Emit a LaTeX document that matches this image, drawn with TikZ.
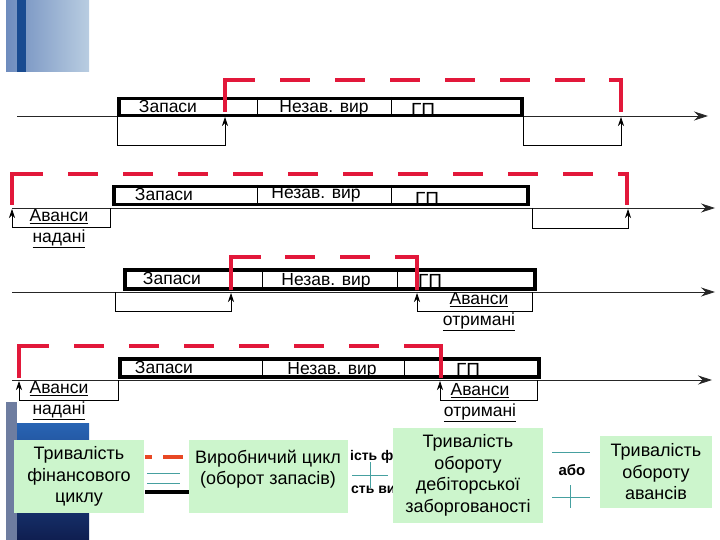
\documentclass[tikz,border=0pt]{standalone}
\usepackage{fontspec}
\setmainfont{Liberation Sans}
\usetikzlibrary{arrows.meta}
\definecolor{finred}{RGB}{226,24,58}
\definecolor{boxgreen}{RGB}{204,245,204}
\definecolor{legteal}{RGB}{70,160,160}
\definecolor{legorange}{RGB}{232,72,36}
\definecolor{decoA}{RGB}{110,140,190}
\definecolor{decoB}{RGB}{185,205,225}
\definecolor{decoC}{RGB}{25,75,145}
\definecolor{decoD}{RGB}{110,125,160}
\definecolor{decoE}{RGB}{40,100,180}
\definecolor{decoF}{RGB}{15,30,80}

\begin{document}
\begin{tikzpicture}[x=1pt, y=-1pt, >=Stealth,
  axis/.style={black!85, line width=0.8pt, -{Stealth[length=14pt,width=9pt]}},
  bar/.style={draw, line width=3.5pt, fill=white, anchor=north west, inner sep=0pt},
  sep/.style={line width=0.6pt},
  lbl/.style={font=\fontsize{17.5}{19}\selectfont, inner sep=1pt},
  gp/.style={font=\fontsize{19}{20}\selectfont, inner sep=0pt},
  adv/.style={font=\fontsize{17.5}{21}\selectfont, align=center, inner sep=0pt},
  brk/.style={line width=0.7pt, -{Stealth[length=9pt,width=6pt]}},
  fin/.style={finred, line width=4.5pt, dash pattern=on 30pt off 25pt, dash phase=23pt},
  finend/.style={finred, line width=4.5pt},
  gbox/.style={fill=boxgreen, inner sep=0pt},
  gtxt/.style={font=\fontsize{18}{21.5}\selectfont, align=center, inner sep=0pt},
  hid/.style={font=\bfseries\fontsize{14}{16}\selectfont, inner sep=0pt, anchor=base west},
  legline/.style={legteal, line width=0.8pt}
]
  \useasboundingbox (0,0) rectangle (720,540);

  % slide decoration
  \shade[left color=decoA, right color=decoB] (6,0) rectangle (89,72);
  \fill[decoC] (17,0) rectangle (26,72);
  \fill[decoD] (6,402) rectangle (17,540);
  \shade[top color=decoE, bottom color=decoF] (17,423) rectangle (89,540);

  % ---- row 1
  \coordinate (a1s) at (17,116);
  \coordinate (a1e) at (708,116);
  \draw[axis] (a1s) -- (a1e);
  \node[bar, minimum width=403pt, minimum height=17pt] (bar1) at (117,97) {};
  \draw[sep] (257,0 |- bar1.north) -- (257,0 |- bar1.south);
  \draw[sep] (391,0 |- bar1.north) -- (391,0 |- bar1.south);
  \node[lbl] (zap1) at (168,106) {Запаси};
  \node[lbl] (nez1) at (324,108) {Незав. вир};
  \node[gp] (gp1) at (423,110) {ГП};
  \coordinate (k1l) at (225,145); \coordinate (t1l) at (225,117);
  \coordinate (k1r) at (621,145); \coordinate (t1r) at (621,117);
  \draw[brk] (bar1.south west) |- (k1l) -- (t1l);
  \draw[brk] (bar1.south east) |- (k1r) -- (t1r);
  \coordinate (f1a) at (225,112); \coordinate (f1b) at (621,112);
  \draw[fin] (f1a) -- ++(0,-32) -| (f1b);
  \draw[finend] (f1a) |- +(30,-32);
  \draw[finend] (f1b) |- +(-12,-32);

  % ---- row 2
  \coordinate (a2s) at (12,208);
  \coordinate (a2e) at (715,208);
  \draw[axis] (a2s) -- (a2e);
  \node[bar, minimum width=414pt, minimum height=18pt] (bar2) at (112,185) {};
  \draw[sep] (257,0 |- bar2.north) -- (257,0 |- bar2.south);
  \draw[sep] (391,0 |- bar2.north) -- (391,0 |- bar2.south);
  \node[lbl] (zap2) at (164,194) {Запаси};
  \node[lbl] (nez2) at (316,194) {Незав. вир};
  \node[gp] (gp2) at (427,199) {ГП};
  \coordinate (s2l) at (110,208);
  \coordinate (k2l) at (12,227); \coordinate (t2l) at (12,209);
  \coordinate (s2r) at (532,208);
  \coordinate (k2r) at (628,228); \coordinate (t2r) at (628,209);
  \draw[brk] (s2l) |- (k2l) -- (t2l);
  \draw[brk] (s2r) |- (k2r) -- (t2r);
  \node[adv] (avn2) at (59,228.5) {\underline{Аванси}\\\underline{надані}};
  \coordinate (f2a) at (12,205); \coordinate (f2b) at (627,205);
  \draw[fin] (f2a) -- ++(0,-31) -| (f2b);
  \draw[finend] (f2a) |- +(30,-31);
  \draw[finend] (f2b) |- +(-8,-31);

  % ---- row 3
  \coordinate (a3s) at (12,292);
  \coordinate (a3e) at (715,292);
  \draw[axis] (a3s) -- (a3e);
  \node[bar, minimum width=410pt, minimum height=19pt] (bar3) at (123,268) {};
  \draw[sep] (262,0 |- bar3.north) -- (262,0 |- bar3.south);
  \draw[sep] (397,0 |- bar3.north) -- (397,0 |- bar3.south);
  \node[lbl] (zap3) at (172,278) {Запаси};
  \node[lbl] (nez3) at (326,281) {Незав. вир};
  \node[gp] (gp3) at (430,281) {ГП};
  \coordinate (s3l) at (115,292);
  \coordinate (k3l) at (231,311); \coordinate (t3l) at (231,293);
  \coordinate (s3r) at (532,292);
  \coordinate (k3r) at (417,311); \coordinate (t3r) at (417,293);
  \draw[brk] (s3l) |- (k3l) -- (t3l);
  \draw[brk] (s3r) |- (k3r) -- (t3r);
  \node[adv] (avo3) at (479,311.5) {\underline{Аванси}\\\underline{отримані}};
  \coordinate (f3a) at (231,290); \coordinate (f3b) at (417,290);
  \draw[fin] (f3a) -- ++(0,-33) -| (f3b);
  \draw[finend] (f3a) |- +(30,-33);
  \draw[finend] (f3b) |- +(-18,-33);

  % ---- row 4
  \coordinate (a4s) at (12,380);
  \coordinate (a4e) at (712,380);
  \draw[axis] (a4s) -- (a4e);
  \node[bar, minimum width=419pt, minimum height=18pt] (bar4) at (118,357) {};
  \draw[sep] (262,0 |- bar4.north) -- (262,0 |- bar4.south);
  \draw[sep] (404,0 |- bar4.north) -- (404,0 |- bar4.south);
  \node[lbl] (zap4) at (164,367) {Запаси};
  \node[lbl] (nez4) at (332,370) {Незав. вир};
  \node[gp] (gp4) at (468,370) {ГП};
  \coordinate (s4l) at (118,380);
  \coordinate (k4l) at (19,400); \coordinate (t4l) at (19,381);
  \coordinate (s4r) at (537,380);
  \coordinate (k4r) at (440,400); \coordinate (t4r) at (440,381);
  \draw[brk] (s4l) |- (k4l) -- (t4l);
  \draw[brk] (s4r) |- (k4r) -- (t4r);
  \node[adv] (avn4) at (59,400.5) {\underline{Аванси}\\\underline{надані}};
  \node[adv] (avo4) at (480,402.5) {\underline{Аванси}\\\underline{отримані}};
  \coordinate (f4a) at (19,378); \coordinate (f4b) at (441,378);
  \draw[fin] (f4a) -- ++(0,-32) -| (f4b);
  \draw[finend] (f4a) |- +(30,-32);
  \draw[finend] (f4b) |- +(-36,-32);

  % ---- legend and formula
  \node[hid] (legfin) at (350,460) {ість ф};
  \node[hid] (legvir) at (351,493) {сть ви};
  \draw[legorange, line width=4pt] (145,457) -- (152,457);
  \draw[legorange, line width=4pt] (163,457) -- (183,457);
  \draw[legline] (147,473) -- (180,473);
  \draw[legline] (147,483) -- (180,483);
  \draw[line width=4pt] (145,492) -- (190,492);
  \draw[legline] (352,475) -- (388,475);
  \draw[legline] (370,462) -- (370,488);
  \draw[legline] (552,452) -- (590,452);
  \draw[legline] (552,497) -- (590,497);
  \draw[legline] (570,485) -- (570,508);

  \node[gbox, minimum width=130pt, minimum height=73pt] (tfc) at (79,476.5) {};
  \node[gtxt] (tfctxt) at (tfc.center) {Тривалість\\фінансового\\циклу};
  \node[gbox, minimum width=159pt, minimum height=73pt] (vc) at (268.5,476.5) {};
  \node[gtxt] (vctxt) at (268,469) {Виробничий цикл\\(оборот запасів)};
  \node[gbox, minimum width=150pt, minimum height=95pt] (tod) at (468,475.5) {};
  \node[gtxt] (todtxt) at (tod.center) {Тривалість\\обороту\\дебіторської\\заборгованості};
  \node[font=\bfseries\fontsize{15}{16}\selectfont] (abo) at (572,470) {або};
  \node[gbox, minimum width=112pt, minimum height=72pt] (toa) at (656,472) {};
  \node[gtxt] (toatxt) at (toa.center) {Тривалість\\обороту\\авансів};
\end{tikzpicture}
\end{document}
